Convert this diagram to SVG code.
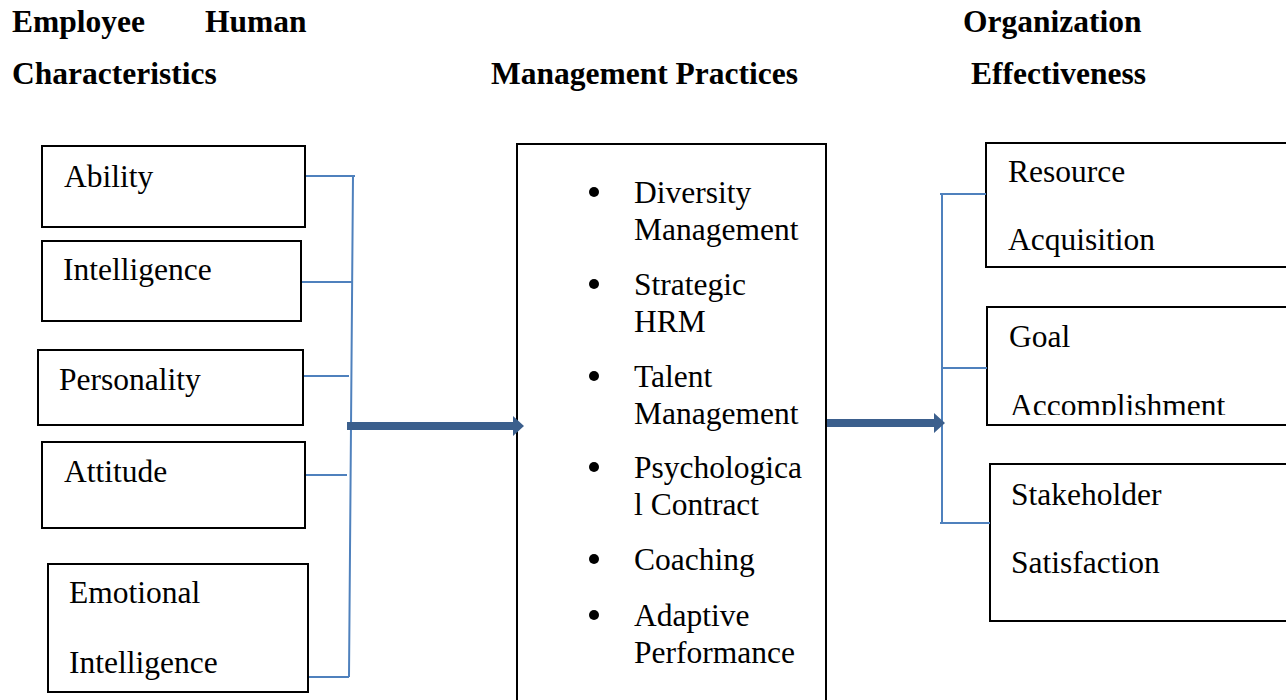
<svg xmlns="http://www.w3.org/2000/svg" width="1286" height="700" viewBox="0 0 1286 700">
<defs>
<style>
.box{fill:#fff;stroke:#000;stroke-width:2}
.t{font-family:"Liberation Serif","Times New Roman",serif;font-size:31.5px;fill:#000}
.h{font-family:"Liberation Serif","Times New Roman",serif;font-size:31.5px;font-weight:bold;fill:#000}
.c{stroke:#4f81bd;stroke-width:2;fill:none}
.big{fill:#3b5f8d}
</style>
<clipPath id="cg"><rect x="987" y="307" width="300" height="108"/></clipPath>
</defs>
<rect width="1286" height="700" fill="#fff"/>
<g id="headings">
<text class="h" x="12" y="32">Employee</text>
<text class="h" x="205" y="32">Human</text>
<text class="h" x="12" y="84">Characteristics</text>
<text class="h" x="491" y="84">Management Practices</text>
<text class="h" x="963" y="32">Organization</text>
<text class="h" x="971" y="84">Effectiveness</text>
</g>
<g id="ability"><rect class="box" x="42" y="146" width="263" height="81"/><text class="t" x="64" y="187">Ability</text></g>
<g id="intelligence"><rect class="box" x="42" y="241" width="259" height="80"/><text class="t" x="63" y="280">Intelligence</text></g>
<g id="personality"><rect class="box" x="38" y="350" width="265" height="75"/><text class="t" x="59" y="390">Personality</text></g>
<g id="attitude"><rect class="box" x="42" y="442" width="263" height="86"/><text class="t" x="64" y="482">Attitude</text></g>
<g id="emotional-intelligence"><rect class="box" x="48" y="564" width="260" height="128"/><text class="t" x="69" y="603">Emotional</text><text class="t" x="69" y="673">Intelligence</text></g>
<g id="hrm-practices">
<rect class="box" x="517" y="144" width="309" height="570"/>
<g fill="#000">
<circle cx="594" cy="192" r="5"/><circle cx="594" cy="284" r="5"/><circle cx="594" cy="376" r="5"/><circle cx="594" cy="467" r="5"/><circle cx="594" cy="559" r="5"/><circle cx="594" cy="615" r="5"/>
</g>
<text class="t" x="634" y="203">Diversity</text>
<text class="t" x="634" y="240">Management</text>
<text class="t" x="634" y="295">Strategic</text>
<text class="t" x="634" y="332">HRM</text>
<text class="t" x="634" y="387">Talent</text>
<text class="t" x="634" y="424">Management</text>
<text class="t" x="634" y="478">Psychologica</text>
<text class="t" x="634" y="515">l Contract</text>
<text class="t" x="634" y="570">Coaching</text>
<text class="t" x="634" y="626">Adaptive</text>
<text class="t" x="634" y="663">Performance</text>
</g>
<g id="resource-acquisition"><rect class="box" x="986" y="143" width="310" height="124"/><text class="t" x="1008" y="182">Resource</text><text class="t" x="1008" y="250">Acquisition</text></g>
<g id="goal-accomplishment"><rect class="box" x="987" y="307" width="310" height="118"/><text class="t" x="1010" y="416" clip-path="url(#cg)">Accomplishment</text><text class="t" x="1009" y="347">Goal</text></g>
<g id="stakeholder-satisfaction"><rect class="box" x="990" y="464" width="310" height="157"/><text class="t" x="1011" y="505">Stakeholder</text><text class="t" x="1011" y="573">Satisfaction</text></g>
<g id="connectors">
<path class="c" d="M306,176 H355 M302,282 H352 M304,376 H349 M306,475 H347 M309,677 H349 M353,176 L349,677"/>
<path class="c" d="M940,194 H986 M942,368 H987 M940,523 H990 M942,195 V524"/>
<polygon class="big" points="347,422 513,422 513,416 524,426 513,436 513,430 347,430"/>
<polygon class="big" points="827,419 934,419 934,413 945,423 934,433 934,427 827,427"/>
</g>
</svg>
